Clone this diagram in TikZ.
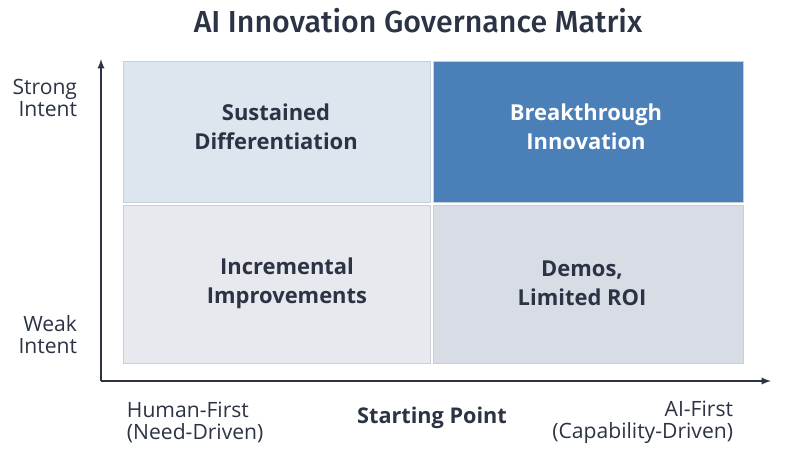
\documentclass[tikz,border=0pt]{standalone}
\usepackage{fontspec}
\setmainfont{Open Sans}
\newfontfamily\titlefont{Fira Sans}[UprightFont={* Medium}]
\usepackage{tikz}
\usetikzlibrary{arrows}
\definecolor{inkdark}{HTML}{2B3344}
\definecolor{celltl}{HTML}{DBE6EF}
\definecolor{celltr}{HTML}{4A7FB8}
\definecolor{cellbl}{HTML}{E8E9EE}
\definecolor{cellbr}{HTML}{D8DCE5}
\definecolor{celledge}{HTML}{C9CFD9}
\tikzstyle{quad} = [rectangle, draw=celledge, line width=0.6pt, minimum width=307*0.025cm, inner sep=0pt]
\tikzstyle{quad_text} = [align=center, text=inkdark, font=\fontsize{15.6}{20.5}\selectfont\bfseries]
\tikzstyle{axis_text} = [text=inkdark, font=\fontsize{15}{15.6}\selectfont]
\tikzstyle{axis_line} = [draw=inkdark, line width=1.3pt, -latex]

\begin{document}
\begin{tikzpicture}[x=0.025cm, y=-0.025cm]
\useasboundingbox[fill=white] (0,0) rectangle (798,456);
% title
\node (title) [text=inkdark, font=\titlefont\fontsize{21.6}{24}\selectfont] at (418,21) {AI Innovation Governance Matrix};
% quadrants
\node (tl) [quad, fill=celltl, minimum height=141*0.025cm] at (276.5,131.5) {};
\node (tr) [quad, fill=celltr, minimum height=141*0.025cm, minimum width=310*0.025cm] at (588,131.5) {};
\node (bl) [quad, fill=cellbl, minimum height=158*0.025cm] at (276.5,284) {};
\node (br) [quad, fill=cellbr, minimum height=158*0.025cm, minimum width=310*0.025cm] at (588,284) {};
\node (tl_txt) [quad_text] at (276,127) {Sustained\\Differentiation};
\node (tr_txt) [quad_text, text=white] at (586,127) {Breakthrough\\Innovation};
\node (bl_txt) [quad_text] at (287,283) {Incremental\\Improvements};
\node (br_txt) [quad_text] at (582,283) {Demos,\\Limited ROI};
% axes
\coordinate (origin) at (101,381);
\coordinate (ytop) at (101,59);
\coordinate (xend) at (771,381);
\draw[axis_line] (origin) -- (ytop);
\draw[axis_line] (origin) -- (xend);
% axis labels
\node (strong) [axis_text, align=right, anchor=east] at (82,98) {Strong\\Intent};
\node (weak) [axis_text, align=right, anchor=east] at (82,335) {Weak\\Intent};
\node (human) [axis_text, align=left, anchor=west] at (122,422) {Human-First\\(Need-Driven)};
\node (aifirst) [axis_text, align=right, anchor=east] at (738,422) {AI-First\\(Capability-Driven)};
\node (start) [axis_text, font=\fontsize{15.4}{17}\selectfont\bfseries] at (432,418) {Starting Point};
\end{tikzpicture}
\end{document}
